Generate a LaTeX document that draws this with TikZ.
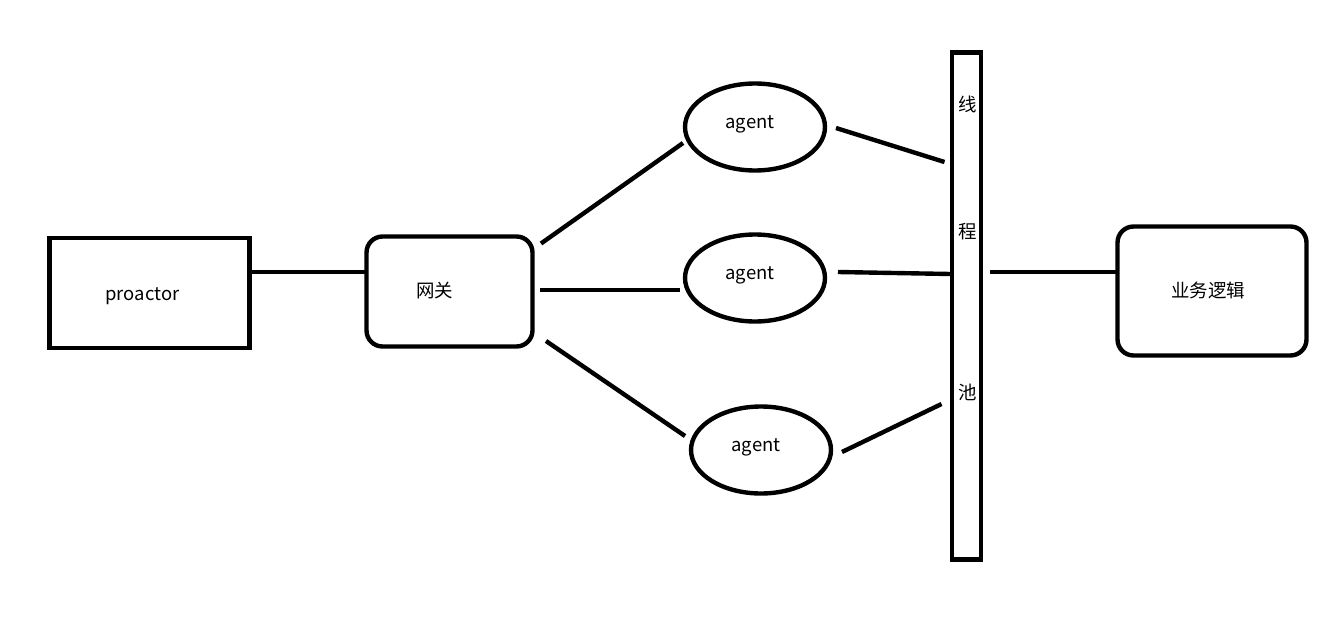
\documentclass[tikz,border=0pt]{standalone}
\usepackage{fontspec}
\setmainfont{Noto Sans CJK SC}
\usetikzlibrary{shapes.geometric}
\begin{document}
\begin{tikzpicture}[x=0.02cm,y=-0.02cm,line width=2.5pt,
	every node/.style={inner sep=0pt,outer sep=0pt,font=\fontsize{10.5}{12}\selectfont},
	box/.style={draw,rectangle},
	rbox/.style={draw,rectangle,rounded corners=0.32cm},
	agentnode/.style={draw,ellipse,minimum width=2.8cm,minimum height=1.74cm}]
	\useasboundingbox (0,0) rectangle (1338,625);
	\node[box,minimum width=4cm,minimum height=2.2cm,
		label={[xshift=-0.14cm,yshift=-0.06cm]center:proactor}] (proactor) at (149.5,293) {};
	\node[rbox,minimum width=3.32cm,minimum height=2.2cm,
		label={[xshift=-0.3cm,yshift=0.02cm]center:网关}] (gw) at (449.5,291.5) {};
	\node[agentnode,label={[xshift=-0.1cm,yshift=0.05cm]center:agent}] (a1) at (755,127) {};
	\node[agentnode,label={[xshift=-0.1cm,yshift=0.05cm]center:agent}] (a2) at (755,278) {};
	\node[agentnode,label={[xshift=-0.1cm,yshift=0.05cm]center:agent}] (a3) at (761,450) {};
	\node[box,minimum width=0.58cm,minimum height=10.14cm] (pool) at (966.5,306) {};
	\node (xian) at (968,104) {线};
	\node (cheng) at (968,232) {程};
	\node (chi) at (968,392) {池};
	\node[rbox,minimum width=3.78cm,minimum height=2.58cm,
		label={[xshift=-0.08cm,yshift=0.02cm]center:业务逻辑}] (biz) at (1212,291) {};
	% connectors
	\draw ([shift={(0,-21)}]proactor.east) -- ([shift={(0,-19.5)}]gw.west);
	\draw ([shift={(8.5,7)}]gw.north east) -- ([shift={(-2,16)}]a1.west);
	\draw ([shift={(7.5,-1.5)}]gw.east) -- ([shift={(-5,12)}]a2.west);
	\draw ([shift={(13.5,-5.5)}]gw.south east) -- ([shift={(-6,-14)}]a3.west);
	\draw ([shift={(11,1)}]a1.east) -- ([shift={(-7.5,-144)}]pool.west);
	\draw ([shift={(13,-6)}]a2.east) -- ([shift={(-1.5,-32)}]pool.west);
	\draw ([shift={(11,2)}]a3.east) -- ([shift={(-10.5,98)}]pool.west);
	\draw ([shift={(8.5,-34)}]pool.east) -- ([shift={(0,-19)}]biz.west);
\end{tikzpicture}
\end{document}
